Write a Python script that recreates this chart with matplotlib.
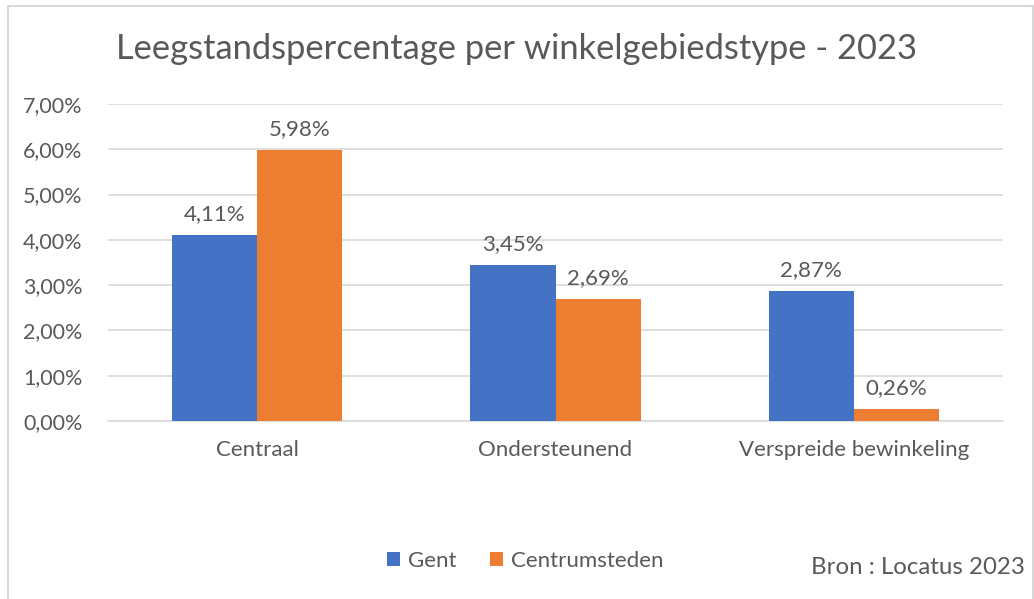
import matplotlib.pyplot as plt
import numpy as np
from matplotlib.patches import Rectangle
from matplotlib.ticker import FuncFormatter, MultipleLocator

categories = ["Centraal", "Ondersteunend", "Verspreide bewinkeling"]
gent = [4.11, 3.45, 2.87]
centrumsteden = [5.98, 2.69, 0.26]

BLUE = "#4472C4"
ORANGE = "#ED7D31"
TEXT = "#595959"
GRID = "#D9D9D9"


def pct(v):
    return f"{v:.2f}%".replace(".", ",")


def main() -> None:
    plt.rcParams["font.family"] = ["Lato", "DejaVu Sans"]

    fig = plt.figure(figsize=(10.34, 5.99), dpi=100)
    fig.patches.append(Rectangle((8 / 1034, -0.01), 1025 / 1034, 1 - 6 / 599 + 0.01,
                                 transform=fig.transFigure, fill=False,
                                 edgecolor=GRID, linewidth=1.5))

    ax = fig.add_axes([108 / 1034, 1 - 421 / 599, 895 / 1034, 317 / 599])

    x = np.arange(len(categories))
    w = 0.285
    b1 = ax.bar(x - w / 2, gent, w, color=BLUE, label="Gent", zorder=3)
    b2 = ax.bar(x + w / 2, centrumsteden, w, color=ORANGE, label="Centrumsteden", zorder=3)

    for bars, vals in ((b1, gent), (b2, centrumsteden)):
        for bar, v in zip(bars, vals):
            ax.annotate(pct(v), (bar.get_x() + bar.get_width() / 2, v),
                        xytext=(0, 8), textcoords="offset points",
                        ha="center", va="bottom", fontsize=16, color=TEXT)

    ax.set_xlim(-0.5, 2.5)
    ax.set_ylim(0, 7)
    ax.yaxis.set_major_locator(MultipleLocator(1))
    ax.yaxis.set_major_formatter(FuncFormatter(lambda v, _: pct(v)))
    ax.set_xticks(x, categories)
    ax.grid(axis="y", color=GRID, linewidth=1.2, zorder=0)
    for side in ("top", "right", "left"):
        ax.spines[side].set_visible(False)
    ax.spines["bottom"].set_color(GRID)
    ax.spines["bottom"].set_linewidth(1.2)
    ax.tick_params(axis="both", length=0, labelsize=16, labelcolor=TEXT)
    ax.tick_params(axis="x", labelsize=16)
    ax.tick_params(axis="y", labelsize=15.5, pad=18.5)
    ax.tick_params(axis="x", pad=14)

    fig.text(0.5, 1 - 49 / 599, "Leegstandspercentage per winkelgebiedstype - 2023",
             ha="center", va="center", fontsize=24.8, color=TEXT)

    fig.legend(handles=[b1, b2], loc="center", bbox_to_anchor=(525 / 1034, 1 - 561 / 599),
               ncol=2, frameon=False, fontsize=16, labelcolor=TEXT,
               handlelength=0.6, handleheight=0.6, handletextpad=0.35, columnspacing=1.5)

    fig.text(1025 / 1034, 1 - 567 / 599, "Bron : Locatus 2023", ha="right", va="center",
             fontsize=17.3, color=TEXT)

    fig.savefig("out.png", dpi=100)


if __name__ == "__main__":
    main()
